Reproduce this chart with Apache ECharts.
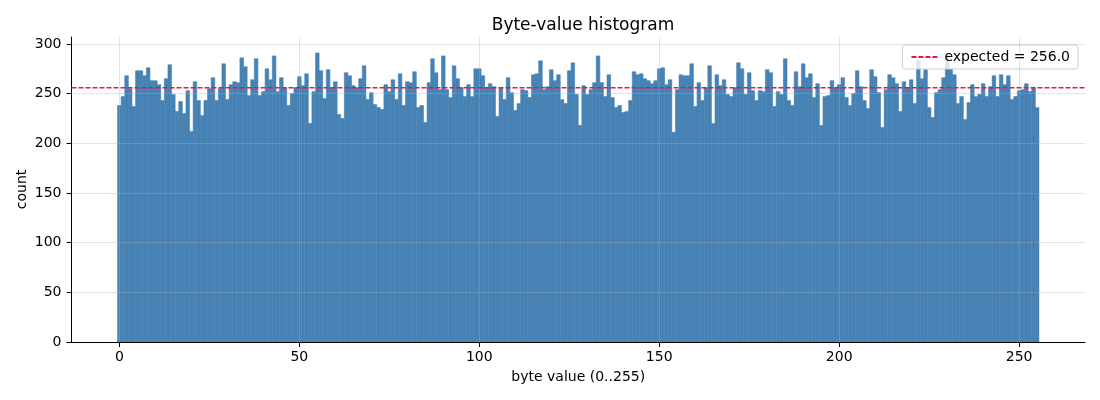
<!DOCTYPE html>
<html>
<head>
<meta charset="utf-8">
<script src="https://cdn.jsdelivr.net/npm/echarts@6/dist/echarts.min.js"></script>
<style>
  html, body { margin: 0; padding: 0; background: #fff; }
  #chart { width: 1100px; height: 400px; }
</style>
</head>
<body>
<div id="chart"></div>
<script>
// counts per byte value
const counts = [
  238, 247, 268, 255, 237, 273, 273, 268, 276, 263, 263, 259, 243, 265, 279, 249,
  232, 242, 230, 253, 212, 262, 243, 228, 243, 255, 266, 243, 255, 280, 244, 259,
  262, 261, 286, 277, 248, 264, 285, 248, 252, 275, 264, 288, 252, 266, 256, 238,
  250, 256, 267, 258, 270, 220, 252, 291, 273, 245, 274, 256, 262, 229, 225, 271,
  268, 258, 256, 265, 278, 244, 251, 239, 236, 234, 259, 252, 264, 244, 270, 238,
  262, 261, 272, 236, 238, 221, 261, 285, 271, 254, 288, 254, 246, 278, 265, 256,
  247, 259, 247, 275, 275, 268, 256, 260, 257, 227, 256, 244, 266, 251, 233, 240,
  254, 253, 246, 269, 270, 283, 254, 257, 274, 263, 269, 244, 240, 273, 281, 249,
  218, 258, 249, 254, 261, 288, 261, 247, 269, 246, 236, 238, 231, 232, 243, 272,
  269, 270, 265, 263, 260, 263, 275, 276, 259, 264, 211, 254, 269, 268, 268, 280,
  237, 261, 243, 256, 278, 220, 269, 258, 264, 249, 247, 256, 281, 275, 249, 271,
  253, 243, 253, 252, 274, 271, 237, 252, 249, 285, 243, 238, 272, 257, 280, 266,
  270, 246, 260, 218, 247, 248, 263, 256, 259, 266, 246, 238, 250, 273, 257, 243,
  235, 274, 267, 251, 216, 254, 269, 266, 260, 232, 262, 256, 264, 240, 283, 265,
  274, 236, 226, 251, 254, 266, 291, 275, 269, 240, 247, 224, 241, 259, 247, 249,
  260, 247, 257, 268, 247, 269, 259, 268, 244, 247, 253, 254, 260, 252, 256, 236
];
const byteValues = counts.map((c, i) => i);

const expected = 256.0;
const xTicks = [0, 50, 100, 150, 200, 250];
const yTicks = [0, 50, 100, 150, 200, 250, 300];
const xMin = -13.3;
const xMax = 268.3;
const yMax = 307;

const chart = echarts.init(document.getElementById('chart'), null, { renderer: 'canvas' });

const font = 'DejaVu Sans';
const gridLine = { show: true, lineStyle: { color: 'rgba(176,176,176,0.35)', width: 1 } };
const barColor = '#4682B4';

chart.setOption({
  animation: false,
  textStyle: { fontFamily: font, color: '#000' },
  title: {
    text: 'Byte-value histogram',
    left: 578,
    textAlign: 'center',
    top: 12,
    textStyle: { fontFamily: font, fontSize: 17, fontWeight: 'normal', color: '#000' }
  },
  grid: { left: 71.5, right: 15, top: 37, bottom: 58 },
  legend: {
    right: 22,
    top: 45,
    padding: [5, 8],
    itemWidth: 28,
    itemHeight: 14,
    borderColor: '#cccccc',
    borderWidth: 1,
    borderRadius: 3,
    backgroundColor: 'rgba(255,255,255,0.8)',
    itemStyle: { opacity: 0 },
    textStyle: { fontFamily: font, fontSize: 14, color: '#000' },
    data: ['expected = ' + expected.toFixed(1)]
  },
  xAxis: {
    type: 'value',
    min: xMin,
    max: xMax,
    z: 5,
    name: 'byte value (0..255)',
    nameLocation: 'middle',
    nameGap: 28,
    nameTextStyle: { fontFamily: font, fontSize: 14, color: '#000' },
    axisLine: { show: true, onZero: false, lineStyle: { color: '#000', width: 1 } },
    axisTick: { show: true, length: 5, customValues: xTicks, lineStyle: { color: '#000' } },
    axisLabel: { customValues: xTicks, margin: 8, fontSize: 14, color: '#000', fontFamily: font },
    splitLine: Object.assign({ customValues: xTicks }, gridLine)
  },
  yAxis: {
    type: 'value',
    min: 0,
    max: yMax,
    z: 5,
    name: 'count',
    nameLocation: 'middle',
    nameRotate: 90,
    nameGap: 42,
    nameMoveOverlap: false,
    nameTextStyle: { fontFamily: font, fontSize: 14, color: '#000' },
    axisLine: { show: true, onZero: false, lineStyle: { color: '#000', width: 1 } },
    axisTick: { show: true, length: 5, customValues: yTicks, lineStyle: { color: '#000' } },
    axisLabel: { customValues: yTicks, margin: 10, fontSize: 14, color: '#000', fontFamily: font },
    splitLine: Object.assign({ customValues: yTicks }, gridLine)
  },
  series: [
    {
      type: 'custom',
      name: 'counts',
      z: 2,
      data: byteValues.map((b, i) => [b, counts[i]]),
      encode: { x: 0, y: 1 },
      renderItem: function (params, api) {
        const b = api.value(0);
        const c = api.value(1);
        const p0 = api.coord([b - 0.5, c]);
        const p1 = api.coord([b + 0.5, 0]);
        return {
          type: 'rect',
          shape: { x: p0[0], y: p0[1], width: p1[0] - p0[0], height: p1[1] - p0[1] },
          style: { fill: barColor, stroke: barColor, lineWidth: 0.6 }
        };
      }
    },
    {
      type: 'line',
      name: 'expected = ' + expected.toFixed(1),
      z: 10,
      symbol: 'none',
      color: '#DC143C',
      lineStyle: { color: '#E8163F', width: 1.5, type: [5, 2] },
      data: [[xMin, expected], [xMax, expected]]
    }
  ]
});
</script>
</body>
</html>
